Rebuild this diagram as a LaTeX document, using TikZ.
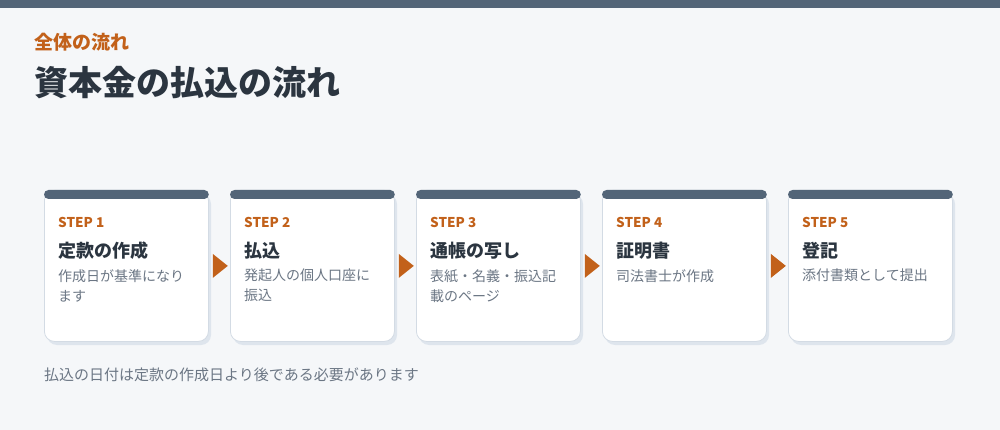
\documentclass[tikz,border=0pt]{standalone}
\usepackage{fontspec}
\setmainfont{Noto Sans CJK JP}
\usetikzlibrary{calc}
\definecolor{bgc}{HTML}{F5F7F9}
\definecolor{slate}{HTML}{536578}
\definecolor{accent}{HTML}{C2611A}
\definecolor{darktext}{HTML}{2B3540}
\definecolor{graytext}{HTML}{6B7684}
\definecolor{cardline}{HTML}{D3DBE4}
\definecolor{cardshadow}{HTML}{DEE5ED}
\tikzset{
  cardbox/.style={draw=cardline, line width=0.8pt, fill=white, rounded corners=10pt,
    minimum width=164pt, minimum height=151pt, inner sep=0pt, anchor=north west},
  shadowbox/.style={fill=cardshadow, rounded corners=10pt},
  cardbar/.style={fill=slate, rounded corners=4.5pt},
  steplabel/.style={anchor=west, inner sep=0pt, text=accent, font=\fontsize{13.5}{16}\selectfont\bfseries},
  steptitle/.style={anchor=west, inner sep=0pt, text=darktext, font=\fontsize{18}{22}\selectfont\bfseries},
  stepdesc/.style={anchor=north west, inner sep=0pt, text=graytext, align=left, font=\fontsize{14}{20}\selectfont},
  flowarrow/.style={fill=accent},
}
\begin{document}
\begin{tikzpicture}[x=1pt,y=-1pt]
\fill[bgc] (0,0) rectangle (1000,430);
\fill[slate] (0,0) rectangle (1000,8);
\node[anchor=west, inner sep=0pt, text=accent, font=\fontsize{19}{22}\selectfont\bfseries] (kicker) at (34,42) {全体の流れ};
\node[anchor=west, inner sep=0pt, text=darktext, font=\fontsize{34}{40}\selectfont\bfseries] (title) at (34,83) {資本金の払込の流れ};

\foreach \i/\lab/\ttl/\desc in {
  0/STEP 1/定款の作成/{作成日が基準になり\\ます},
  1/STEP 2/払込/{発起人の個人口座に\\振込},
  2/STEP 3/通帳の写し/{表紙・名義・振込記\\載のページ},
  3/STEP 4/証明書/{司法書士が作成},
  4/STEP 5/登記/{添付書類として提出}} {
  \pgfmathsetmacro{\L}{44+186*\i}
  \fill[shadowbox] (\L+3,194) rectangle (\L+167,345);
  \node[cardbox] (card\i) at (\L,190) {};
  \path[cardbar] (card\i.north west) rectangle ([yshift=-9pt]card\i.north east);
  \node[steplabel] (lab\i) at (\L+14,222) {\lab};
  \node[steptitle] (ttl\i) at (\L+14,251) {\ttl};
  \node[stepdesc] (desc\i) at (\L+14,269) {\desc};
}
\foreach \i in {0,1,2,3} {
  \fill[flowarrow] ([xshift=4pt,yshift=12pt]card\i.east) -- ([xshift=19pt]card\i.east) -- ([xshift=4pt,yshift=-12pt]card\i.east) -- cycle;
}
\node[anchor=west, inner sep=0pt, text=graytext, font=\fontsize{15}{18}\selectfont] (note) at (44,375) {払込の日付は定款の作成日より後である必要があります};
\end{tikzpicture}
\end{document}
